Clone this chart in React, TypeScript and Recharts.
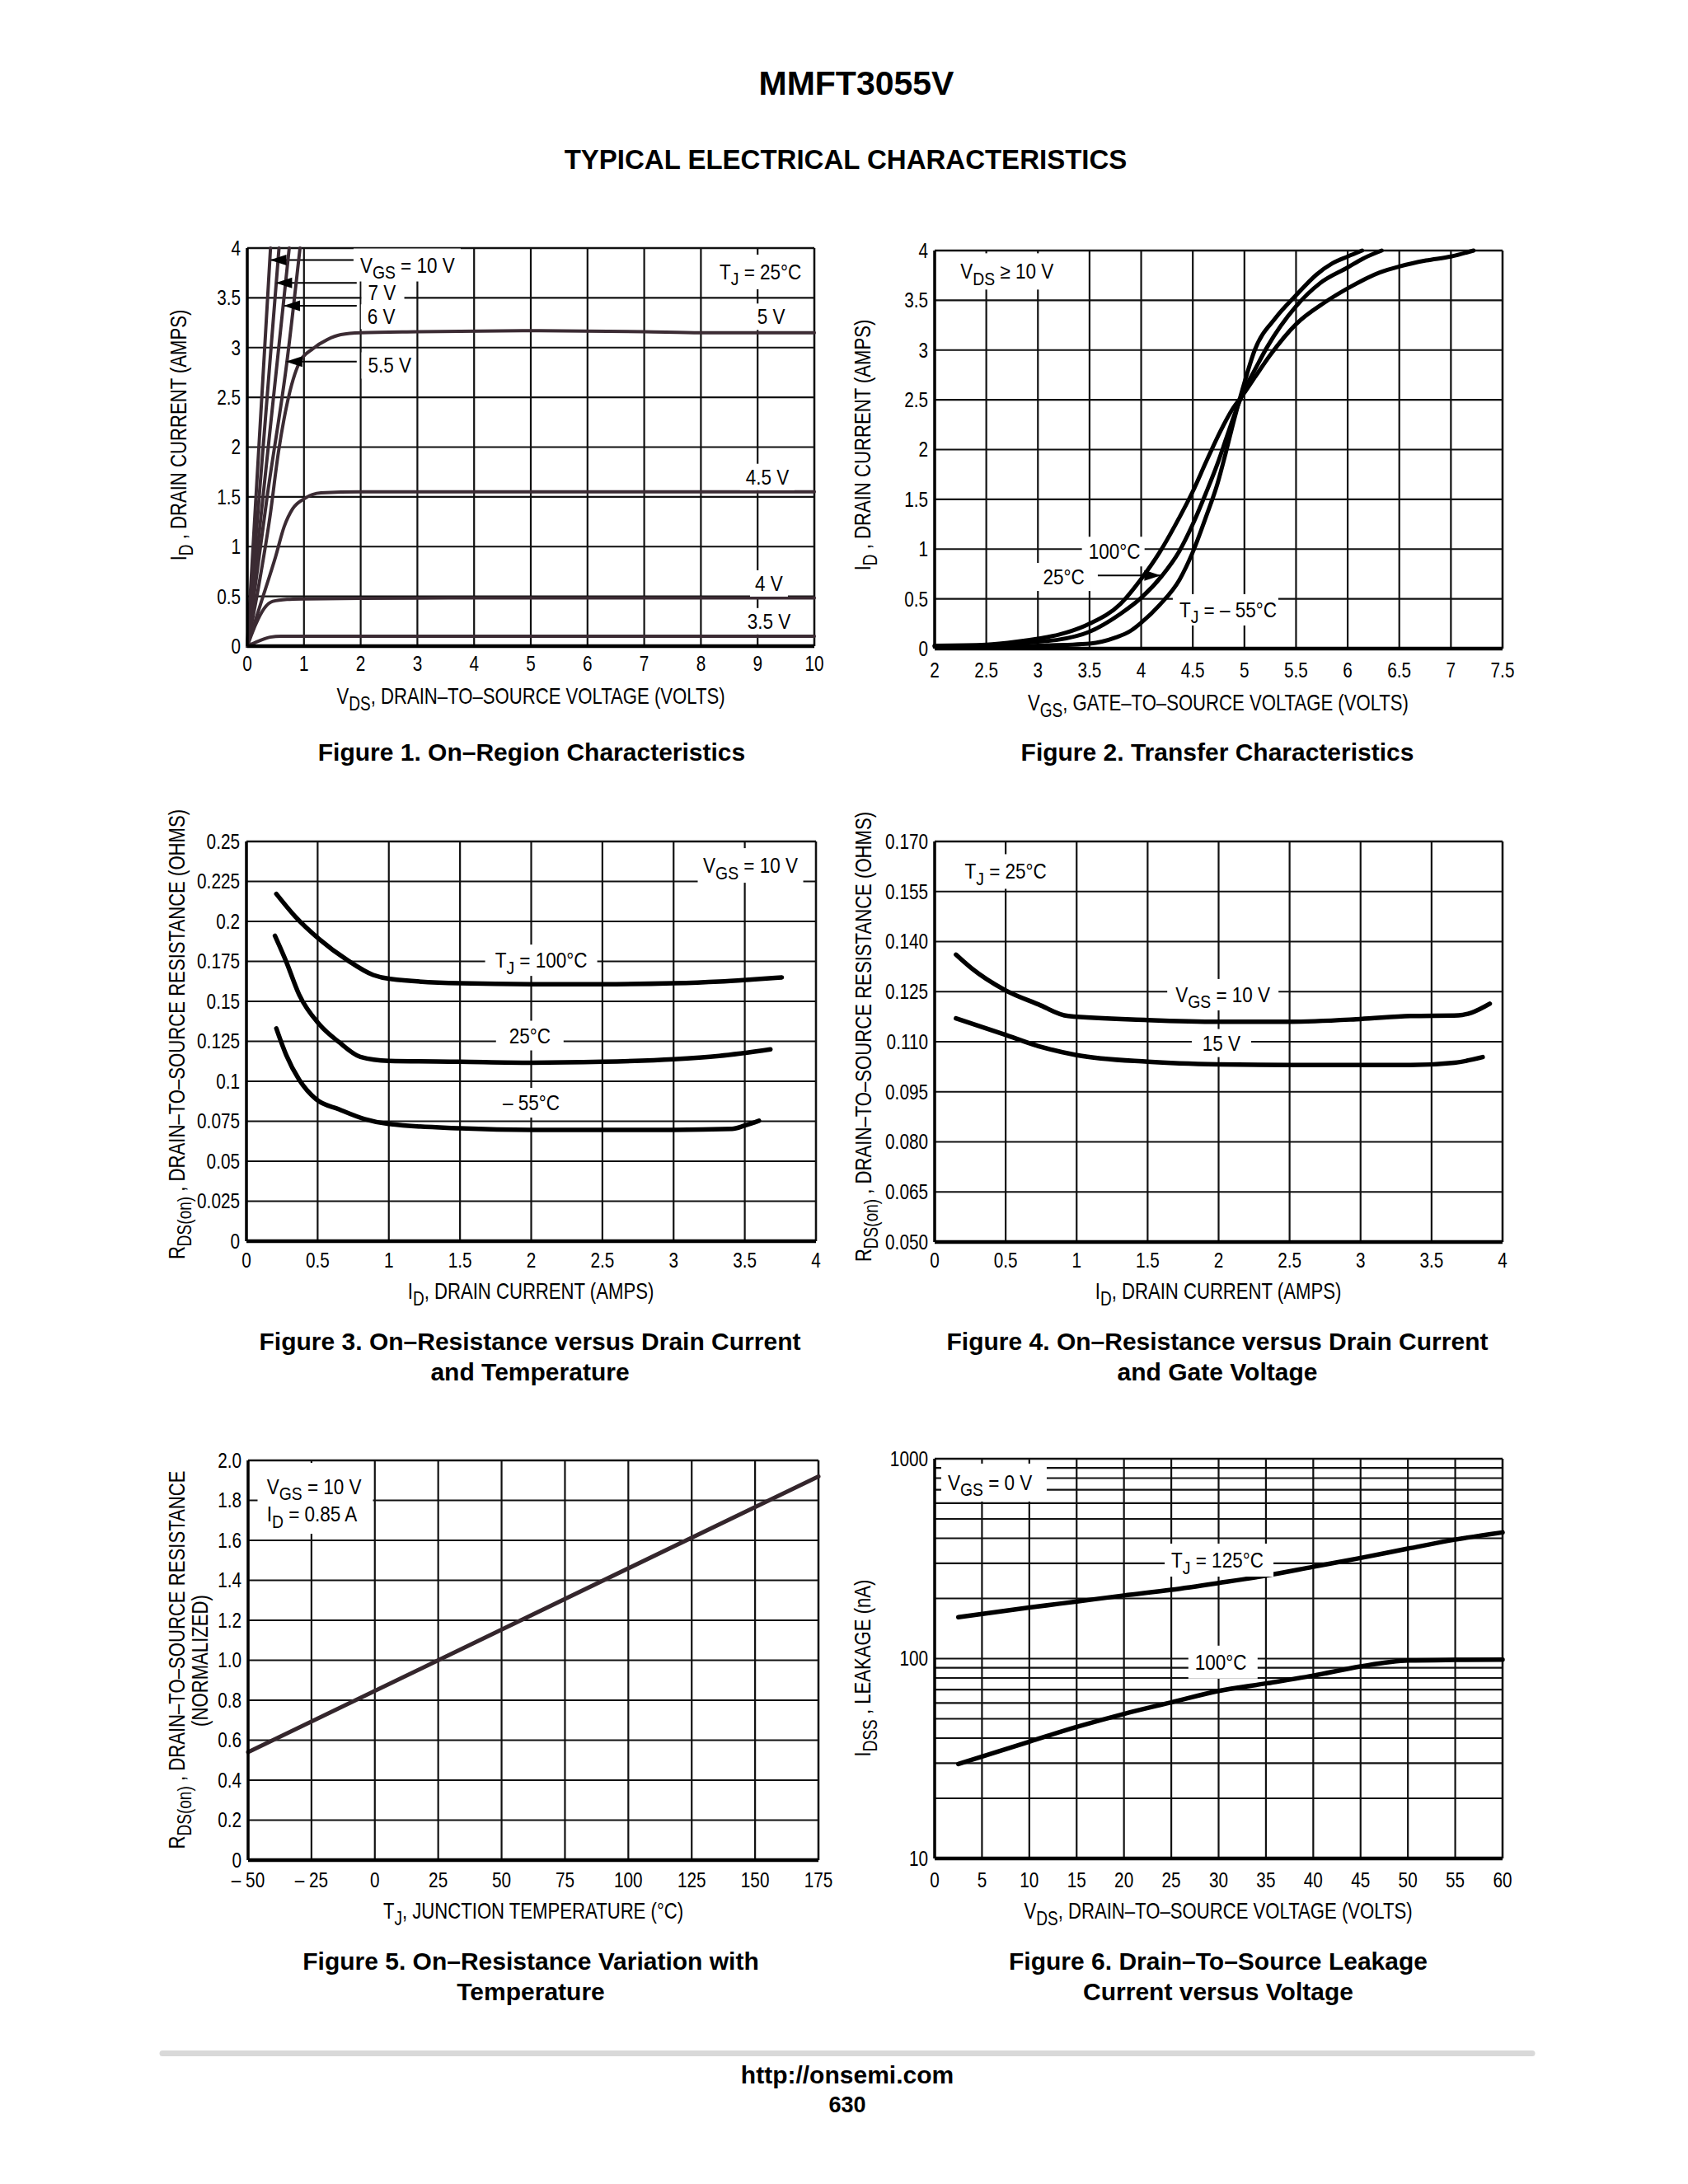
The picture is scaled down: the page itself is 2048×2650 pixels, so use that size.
import React from 'react';
import { LineChart, Line, XAxis, YAxis, CartesianGrid, ReferenceLine, ReferenceDot } from 'recharts';

const SANS = "'Liberation Sans', Arial, Helvetica, sans-serif";

type P = { x: number; y: number };
type Run = [string, number?];

// ---------------- Figure 1 : On-Region Characteristics ----------------
const fig1VdsTicks = [0, 1, 2, 3, 4, 5, 6, 7, 8, 9, 10];
const fig1VdsLabels = ['0', '1', '2', '3', '4', '5', '6', '7', '8', '9', '10'];
const fig1IdTicks = [0, 0.5, 1, 1.5, 2, 2.5, 3, 3.5, 4];
const fig1IdLabels = ['0', '0.5', '1', '1.5', '2', '2.5', '3', '3.5', '4'];
const fig1Vgs10: P[] = [{ x: 0, y: 0 }, { x: 0.41, y: 4 }];
const fig1Vgs7: P[] = [{ x: 0, y: 0 }, { x: 0.56, y: 4 }];
const fig1Vgs6: P[] = [{ x: 0, y: 0 }, { x: 0.74, y: 4 }];
const fig1Vgs55: P[] = [{ x: 0, y: 0 }, { x: 0.35, y: 1.5 }, { x: 0.7, y: 2.86 }, { x: 0.93, y: 4 }];
const fig1Vgs5: P[] = [
  { x: 0, y: 0 }, { x: 0.2, y: 0.6 }, { x: 0.4, y: 1.3 }, { x: 0.55, y: 1.95 }, { x: 0.7, y: 2.43 },
  { x: 0.92, y: 2.85 }, { x: 1.16, y: 2.99 }, { x: 1.41, y: 3.08 }, { x: 1.65, y: 3.13 }, { x: 2, y: 3.15 },
  { x: 3, y: 3.16 }, { x: 5, y: 3.17 }, { x: 7, y: 3.16 }, { x: 8, y: 3.15 }, { x: 10, y: 3.15 },
];
const fig1Vgs45: P[] = [
  { x: 0, y: 0 }, { x: 0.25, y: 0.45 }, { x: 0.5, y: 0.9 }, { x: 0.65, y: 1.2 }, { x: 0.8, y: 1.38 },
  { x: 1, y: 1.48 }, { x: 1.3, y: 1.54 }, { x: 2, y: 1.55 }, { x: 10, y: 1.55 },
];
const fig1Vgs4: P[] = [
  { x: 0, y: 0 }, { x: 0.15, y: 0.22 }, { x: 0.3, y: 0.38 }, { x: 0.45, y: 0.45 }, { x: 0.7, y: 0.47 },
  { x: 1, y: 0.475 }, { x: 2, y: 0.48 }, { x: 4, y: 0.485 }, { x: 10, y: 0.485 },
];
const fig1Vgs35: P[] = [{ x: 0, y: 0 }, { x: 0.2, y: 0.05 }, { x: 0.4, y: 0.09 }, { x: 0.6, y: 0.1 }, { x: 10, y: 0.1 }];

// ---------------- Figure 2 : Transfer Characteristics ----------------
const fig2VgsTicks = [2, 2.5, 3, 3.5, 4, 4.5, 5, 5.5, 6, 6.5, 7, 7.5];
const fig2VgsLabels = ['2', '2.5', '3', '3.5', '4', '4.5', '5', '5.5', '6', '6.5', '7', '7.5'];
const fig2IdTicks = [0, 0.5, 1, 1.5, 2, 2.5, 3, 3.5, 4];
const fig2IdLabels = ['0', '0.5', '1', '1.5', '2', '2.5', '3', '3.5', '4'];
const fig2Tj100: P[] = [
  { x: 2, y: 0.03 }, { x: 2.5, y: 0.04 }, { x: 2.8, y: 0.07 }, { x: 3, y: 0.1 }, { x: 3.2, y: 0.14 },
  { x: 3.5, y: 0.25 }, { x: 3.8, y: 0.45 }, { x: 4, y: 0.7 }, { x: 4.18, y: 0.97 }, { x: 4.34, y: 1.26 },
  { x: 4.5, y: 1.58 }, { x: 4.63, y: 1.88 }, { x: 4.77, y: 2.19 }, { x: 4.88, y: 2.4 }, { x: 5, y: 2.57 },
  { x: 5.11, y: 2.74 }, { x: 5.25, y: 2.95 }, { x: 5.5, y: 3.26 }, { x: 5.78, y: 3.48 }, { x: 6, y: 3.62 },
  { x: 6.31, y: 3.78 }, { x: 6.5, y: 3.84 }, { x: 6.76, y: 3.9 }, { x: 7, y: 3.94 }, { x: 7.22, y: 4 },
];
const fig2Tj25: P[] = [
  { x: 2, y: 0.03 }, { x: 2.5, y: 0.03 }, { x: 2.8, y: 0.05 }, { x: 3, y: 0.07 }, { x: 3.2, y: 0.09 },
  { x: 3.5, y: 0.17 }, { x: 3.8, y: 0.35 }, { x: 4, y: 0.51 }, { x: 4.2, y: 0.73 }, { x: 4.37, y: 0.98 },
  { x: 4.5, y: 1.25 }, { x: 4.63, y: 1.57 }, { x: 4.74, y: 1.86 }, { x: 4.82, y: 2.1 }, { x: 4.9, y: 2.34 },
  { x: 5, y: 2.6 }, { x: 5.1, y: 2.8 }, { x: 5.22, y: 3.03 }, { x: 5.5, y: 3.44 }, { x: 5.73, y: 3.67 },
  { x: 6, y: 3.83 }, { x: 6.15, y: 3.92 }, { x: 6.33, y: 4 },
];
const fig2TjM55: P[] = [
  { x: 2, y: 0.02 }, { x: 2.5, y: 0.02 }, { x: 3, y: 0.03 }, { x: 3.5, y: 0.05 }, { x: 3.75, y: 0.11 },
  { x: 3.9, y: 0.18 }, { x: 4, y: 0.26 }, { x: 4.18, y: 0.44 }, { x: 4.37, y: 0.69 }, { x: 4.5, y: 0.97 },
  { x: 4.63, y: 1.33 }, { x: 4.74, y: 1.66 }, { x: 4.82, y: 1.97 }, { x: 4.9, y: 2.3 }, { x: 4.98, y: 2.6 },
  { x: 5.1, y: 3 }, { x: 5.3, y: 3.32 }, { x: 5.5, y: 3.55 }, { x: 5.7, y: 3.76 }, { x: 5.85, y: 3.87 },
  { x: 6, y: 3.94 }, { x: 6.14, y: 4 },
];

// ---------------- Figure 3 : On-Resistance vs Drain Current and Temperature ----------------
const fig3IdTicks = [0, 0.5, 1, 1.5, 2, 2.5, 3, 3.5, 4];
const fig3IdLabels = ['0', '0.5', '1', '1.5', '2', '2.5', '3', '3.5', '4'];
const fig3RTicks = [0, 0.025, 0.05, 0.075, 0.1, 0.125, 0.15, 0.175, 0.2, 0.225, 0.25];
const fig3RLabels = ['0', '0.025', '0.05', '0.075', '0.1', '0.125', '0.15', '0.175', '0.2', '0.225', '0.25'];
const fig3Tj100: P[] = [
  { x: 0.21, y: 0.2172 }, { x: 0.34, y: 0.2033 }, { x: 0.51, y: 0.189 }, { x: 0.71, y: 0.1757 },
  { x: 0.89, y: 0.1665 }, { x: 1.01, y: 0.164 }, { x: 1.5, y: 0.1613 }, { x: 2, y: 0.1607 },
  { x: 2.5, y: 0.1607 }, { x: 3, y: 0.1613 }, { x: 3.32, y: 0.1624 }, { x: 3.55, y: 0.1637 }, { x: 3.76, y: 0.165 },
];
const fig3Tj25: P[] = [
  { x: 0.2, y: 0.191 }, { x: 0.28, y: 0.1747 }, { x: 0.37, y: 0.1542 }, { x: 0.51, y: 0.1358 },
  { x: 0.65, y: 0.1245 }, { x: 0.8, y: 0.1153 }, { x: 1, y: 0.1128 }, { x: 1.5, y: 0.1122 },
  { x: 2, y: 0.1116 }, { x: 2.5, y: 0.1122 }, { x: 3, y: 0.1138 }, { x: 3.32, y: 0.1159 }, { x: 3.68, y: 0.12 },
];
const fig3TjM55: P[] = [
  { x: 0.21, y: 0.1331 }, { x: 0.28, y: 0.1163 }, { x: 0.37, y: 0.101 }, { x: 0.49, y: 0.0887 },
  { x: 0.65, y: 0.0825 }, { x: 0.83, y: 0.0764 }, { x: 1, y: 0.0733 }, { x: 1.5, y: 0.0706 },
  { x: 2, y: 0.0696 }, { x: 3, y: 0.0696 }, { x: 3.41, y: 0.0702 }, { x: 3.5, y: 0.0723 }, { x: 3.6, y: 0.0753 },
];

// ---------------- Figure 4 : On-Resistance vs Drain Current and Gate Voltage ----------------
const fig4IdTicks = [0, 0.5, 1, 1.5, 2, 2.5, 3, 3.5, 4];
const fig4IdLabels = ['0', '0.5', '1', '1.5', '2', '2.5', '3', '3.5', '4'];
const fig4RTicks = [0.05, 0.065, 0.08, 0.095, 0.11, 0.125, 0.14, 0.155, 0.17];
const fig4RLabels = ['0.050', '0.065', '0.080', '0.095', '0.110', '0.125', '0.140', '0.155', '0.170'];
const fig4Vgs10: P[] = [
  { x: 0.15, y: 0.1361 }, { x: 0.26, y: 0.132 }, { x: 0.49, y: 0.1256 }, { x: 0.73, y: 0.1212 },
  { x: 0.94, y: 0.1177 }, { x: 1.5, y: 0.1165 }, { x: 2, y: 0.116 }, { x: 2.5, y: 0.116 },
  { x: 3, y: 0.1168 }, { x: 3.35, y: 0.1177 }, { x: 3.69, y: 0.1179 }, { x: 3.78, y: 0.1187 }, { x: 3.91, y: 0.1214 },
];
const fig4Vgs15: P[] = [
  { x: 0.15, y: 0.117 }, { x: 0.49, y: 0.1122 }, { x: 0.73, y: 0.1087 }, { x: 1, y: 0.106 },
  { x: 1.5, y: 0.104 }, { x: 2, y: 0.1032 }, { x: 2.5, y: 0.103 }, { x: 3, y: 0.103 },
  { x: 3.35, y: 0.103 }, { x: 3.66, y: 0.1037 }, { x: 3.86, y: 0.1054 },
];

// ---------------- Figure 5 : On-Resistance Variation with Temperature ----------------
const fig5TjTicks = [-50, -25, 0, 25, 50, 75, 100, 125, 150, 175];
const fig5TjLabels = ['– 50', '– 25', '0', '25', '50', '75', '100', '125', '150', '175'];
const fig5RTicks = [0, 0.2, 0.4, 0.6, 0.8, 1, 1.2, 1.4, 1.6, 1.8, 2];
const fig5RLabels = ['0', '0.2', '0.4', '0.6', '0.8', '1.0', '1.2', '1.4', '1.6', '1.8', '2.0'];
const fig5Rdson: P[] = [{ x: -50, y: 0.54 }, { x: 25, y: 1.0 }, { x: 175, y: 1.92 }];

// ---------------- Figure 6 : Drain-To-Source Leakage Current vs Voltage ----------------
const fig6VdsTicks = [0, 5, 10, 15, 20, 25, 30, 35, 40, 45, 50, 55, 60];
const fig6VdsLabels = ['0', '5', '10', '15', '20', '25', '30', '35', '40', '45', '50', '55', '60'];
const fig6IdssTicks = [10, 20, 30, 40, 50, 60, 70, 80, 90, 100, 200, 300, 400, 500, 600, 700, 800, 900, 1000];
const fig6IdssLabels = ['10', '', '', '', '', '', '', '', '', '100', '', '', '', '', '', '', '', '', '1000'];
const fig6Tj125: P[] = [
  { x: 2.5, y: 161 }, { x: 10, y: 180 }, { x: 15, y: 193 }, { x: 20, y: 207 }, { x: 25, y: 221 },
  { x: 30, y: 239 }, { x: 35, y: 260 }, { x: 40, y: 288 }, { x: 45, y: 319 }, { x: 50, y: 355 },
  { x: 55, y: 394 }, { x: 60, y: 428 },
];
const fig6Tj100: P[] = [
  { x: 2.5, y: 29.7 }, { x: 10, y: 38.4 }, { x: 15, y: 45.5 }, { x: 20, y: 52.9 }, { x: 25, y: 60.4 },
  { x: 30, y: 68.9 }, { x: 35, y: 75.1 }, { x: 40, y: 82.2 }, { x: 45, y: 91.4 }, { x: 50, y: 97.8 },
  { x: 55, y: 98.5 }, { x: 60, y: 98.8 },
];

// ---------------- helpers ----------------
const FS = 25; // tick / note font size
const TICK_SX = 0.83;
const NOTE_SX = 0.9;
const AX = 27; // axis title font size
const AX_SX = 0.82;

function runs(rs: Run[], fs: number) {
  let sub = false;
  return rs.map(([t, s], i) => {
    const isSub = !!s;
    let dy = 0;
    if (isSub && !sub) dy = fs * 0.3;
    if (!isSub && sub) dy = -fs * 0.3;
    sub = isSub;
    return (
      <tspan key={i} dy={dy} fontSize={isSub ? fs * 0.86 : fs}>
        {t}
      </tspan>
    );
  });
}

function NText(props: { x: number; y: number; r: Run[]; fs: number; sx: number; anchor?: string; rotate?: boolean }) {
  const { x, y, r, fs, sx, anchor = 'middle', rotate = false } = props;
  const tr = `translate(${x},${y})${rotate ? ' rotate(-90)' : ''} scale(${sx},1)`;
  return (
    <text transform={tr} x={0} y={0} textAnchor={anchor as any} fontFamily={SANS} fontSize={fs} fill="#000">
      {runs(r, fs)}
    </text>
  );
}

interface Note { x: number; y: number; r: Run[]; a?: 'start' | 'middle'; w: number; h: number }
interface Leader { x1: number; x2: number; y: number; dir: 'left' | 'right' }
interface Series { data: P[]; curve: 'linear' | 'monotone' }
interface PanelCfg {
  left: number; top: number; w: number; h: number;
  xDomain: [number, number]; xTicks: number[]; xLabels: string[];
  yDomain: [number, number]; yTicks: number[]; yLabels: string[]; yLog?: boolean;
  series: Series[]; color: string; lineW: number;
  notes: Note[]; leaders: Leader[]; xGap: number;
}

const YW = 150;
const XH = 60;
const MT = 14;
const MR = 24;

function noteShape(n: Note) {
  return (props: any) => {
    const cx = props.cx;
    const cy = props.cy;
    const a = n.a || 'middle';
    const rx = a === 'middle' ? cx - n.w / 2 : cx - 8;
    return (
      <g>
        {n.w > 0 && <rect x={rx} y={cy - n.h / 2} width={n.w} height={n.h} fill="#fff" />}
        {n.r.length > 0 && <NText x={cx} y={cy + FS * 0.36} r={n.r} fs={FS} sx={NOTE_SX} anchor={a} />}
      </g>
    );
  };
}

function arrowShape(dir: 'left' | 'right') {
  return (props: any) => {
    const cx = props.cx;
    const cy = props.cy;
    const s = dir === 'left' ? 1 : -1;
    return <polygon points={`${cx},${cy} ${cx + s * 20},${cy - 6.5} ${cx + s * 20},${cy + 6.5}`} fill="#000" />;
  };
}

function Panel({ c }: { c: PanelCfg }) {
  const xTick = (p: any) => {
    const lab = c.xLabels[c.xTicks.indexOf(p.payload.value)] ?? '';
    return <NText x={p.x} y={p.y + FS * 0.716} r={[[lab]]} fs={FS} sx={TICK_SX} anchor="middle" />;
  };
  const yTick = (p: any) => {
    const lab = c.yLabels[c.yTicks.indexOf(p.payload.value)] ?? '';
    if (!lab) return <g />;
    return <NText x={p.x} y={p.y + FS * 0.358} r={[[lab]]} fs={FS} sx={TICK_SX} anchor="end" />;
  };
  return (
    <div style={{ position: 'absolute', left: c.left - YW, top: c.top - MT }}>
      <LineChart width={c.w + YW + MR} height={c.h + MT + XH} margin={{ top: MT, right: MR, bottom: 0, left: 0 }}>
        <CartesianGrid stroke="#111" strokeWidth={2.2} />
        <XAxis
          type="number"
          dataKey="x"
          domain={c.xDomain}
          ticks={c.xTicks}
          interval={0}
          height={XH}
          tickLine={false}
          tickSize={0}
          tickMargin={c.xGap}
          axisLine={{ stroke: '#000', strokeWidth: 4.5 }}
          tick={xTick}
        />
        <YAxis
          type="number"
          dataKey="y"
          domain={c.yDomain}
          ticks={c.yTicks}
          interval={0}
          width={YW}
          scale={c.yLog ? 'log' : 'auto'}
          tickLine={false}
          tickSize={0}
          tickMargin={8}
          axisLine={{ stroke: '#000', strokeWidth: 3.5 }}
          tick={yTick}
        />
        <ReferenceLine x={c.xDomain[1]} stroke="#111" strokeWidth={2.4} />
        <ReferenceLine y={c.yDomain[1]} stroke="#111" strokeWidth={2.4} />
        {c.notes.map((n, i) => (
          <ReferenceDot key={'n' + i} x={n.x} y={n.y} r={0} ifOverflow="visible" shape={noteShape(n)} />
        ))}
        {c.leaders.map((l, i) => (
          <ReferenceLine
            key={'l' + i}
            segment={[{ x: l.x1, y: l.y }, { x: l.x2, y: l.y }]}
            stroke="#000"
            strokeWidth={2}
            ifOverflow="visible"
          />
        ))}
        {c.leaders.map((l, i) => (
          <ReferenceDot
            key={'a' + i}
            x={l.dir === 'left' ? l.x1 : l.x2}
            y={l.y}
            r={0}
            ifOverflow="visible"
            shape={arrowShape(l.dir)}
          />
        ))}
        {c.series.map((s, i) => (
          <Line
            key={'s' + i}
            data={s.data}
            dataKey="y"
            type={s.curve}
            stroke={c.color}
            strokeWidth={c.lineW}
            dot={false}
            activeDot={false}
            isAnimationActive={false}
            strokeLinecap="round"
          />
        ))}
      </LineChart>
    </div>
  );
}

const VGS: Run[] = [['V'], ['GS', 1]];
const TJ: Run[] = [['T'], ['J', 1]];

const panel1: PanelCfg = {
  left: 300, top: 301, w: 688, h: 483,
  xDomain: [0, 10], xTicks: fig1VdsTicks, xLabels: fig1VdsLabels,
  yDomain: [0, 4], yTicks: fig1IdTicks, yLabels: fig1IdLabels,
  series: [
    { data: fig1Vgs10, curve: 'linear' }, { data: fig1Vgs7, curve: 'linear' }, { data: fig1Vgs6, curve: 'linear' },
    { data: fig1Vgs55, curve: 'monotone' }, { data: fig1Vgs5, curve: 'monotone' }, { data: fig1Vgs45, curve: 'monotone' },
    { data: fig1Vgs4, curve: 'monotone' }, { data: fig1Vgs35, curve: 'monotone' },
  ],
  color: '#3b2b33', lineW: 4,
  notes: [
    { x: 1.99, y: 3.83, r: [...VGS, [' = 10 V']], a: 'start', w: 130, h: 40 },
    { x: 2.13, y: 3.55, r: [['7 V']], a: 'start', w: 52, h: 30 },
    { x: 2.12, y: 3.31, r: [['6 V']], a: 'start', w: 50, h: 30 },
    { x: 2.13, y: 2.82, r: [['5.5 V']], a: 'start', w: 66, h: 32 },
    { x: 9.05, y: 3.76, r: [...TJ, [' = 25°C']], w: 118, h: 42 },
    { x: 9.24, y: 3.31, r: [['5 V']], w: 46, h: 32 },
    { x: 9.17, y: 1.7, r: [['4.5 V']], w: 66, h: 32 },
    { x: 9.2, y: 0.63, r: [['4 V']], w: 46, h: 32 },
    { x: 9.2, y: 0.25, r: [['3.5 V']], w: 66, h: 32 },
  ],
  leaders: [
    { x1: 0.4, x2: 1.93, y: 3.88, dir: 'left' },
    { x1: 0.5, x2: 1.93, y: 3.65, dir: 'left' },
    { x1: 0.64, x2: 1.93, y: 3.42, dir: 'left' },
    { x1: 0.68, x2: 1.93, y: 2.86, dir: 'left' },
  ],
  xGap: 12,
};

const panel2: PanelCfg = {
  left: 1134, top: 304, w: 689, h: 483,
  xDomain: [2, 7.5], xTicks: fig2VgsTicks, xLabels: fig2VgsLabels,
  yDomain: [0, 4], yTicks: fig2IdTicks, yLabels: fig2IdLabels,
  series: [
    { data: fig2Tj100, curve: 'monotone' }, { data: fig2Tj25, curve: 'monotone' }, { data: fig2TjM55, curve: 'monotone' },
  ],
  color: '#000', lineW: 5,
  notes: [
    { x: 2.25, y: 3.79, r: [['V'], ['DS', 1], [' ≥ 10 V']], a: 'start', w: 128, h: 44 },
    { x: 3.49, y: 0.975, r: [['100°C']], a: 'start', w: 76, h: 36 },
    { x: 3.05, y: 0.72, r: [['25°C']], a: 'start', w: 66, h: 34 },
    { x: 4.37, y: 0.39, r: [...TJ, [' = – 55°C']], a: 'start', w: 128, h: 38 },
  ],
  leaders: [{ x1: 3.58, x2: 4.19, y: 0.734, dir: 'right' }],
  xGap: 17,
};

const panel3: PanelCfg = {
  left: 299, top: 1021, w: 691, h: 485,
  xDomain: [0, 4], xTicks: fig3IdTicks, xLabels: fig3IdLabels,
  yDomain: [0, 0.25], yTicks: fig3RTicks, yLabels: fig3RLabels,
  series: [
    { data: fig3Tj100, curve: 'monotone' }, { data: fig3Tj25, curve: 'monotone' }, { data: fig3TjM55, curve: 'monotone' },
  ],
  color: '#000', lineW: 5.5,
  notes: [
    { x: 3.54, y: 0.235, r: [...VGS, [' = 10 V']], w: 128, h: 42 },
    { x: 2.07, y: 0.1757, r: [...TJ, [' = 100°C']], w: 136, h: 38 },
    { x: 1.99, y: 0.1286, r: [['25°C']], w: 82, h: 36 },
    { x: 2.0, y: 0.0866, r: [['– 55°C']], w: 86, h: 36 },
  ],
  leaders: [],
  xGap: 14,
};

const panel4: PanelCfg = {
  left: 1134, top: 1021, w: 689, h: 486,
  xDomain: [0, 4], xTicks: fig4IdTicks, xLabels: fig4IdLabels,
  yDomain: [0.05, 0.17], yTicks: fig4RTicks, yLabels: fig4RLabels,
  series: [{ data: fig4Vgs10, curve: 'monotone' }, { data: fig4Vgs15, curve: 'monotone' }],
  color: '#000', lineW: 5.5,
  notes: [
    { x: 0.5, y: 0.161, r: [...TJ, [' = 25°C']], w: 118, h: 42 },
    { x: 2.03, y: 0.1241, r: [...VGS, [' = 10 V']], w: 135, h: 38 },
    { x: 2.02, y: 0.1096, r: [['15 V']], w: 72, h: 34 },
  ],
  leaders: [],
  xGap: 13,
};

const panel5: PanelCfg = {
  left: 301, top: 1772, w: 692, h: 485,
  xDomain: [-50, 175], xTicks: fig5TjTicks, xLabels: fig5TjLabels,
  yDomain: [0, 2], yTicks: fig5RTicks, yLabels: fig5RLabels,
  series: [{ data: fig5Rdson, curve: 'linear' }],
  color: '#34262c', lineW: 5,
  notes: [
    { x: -23.5, y: 1.81, r: [], w: 140, h: 86 },
    { x: -42.6, y: 1.87, r: [...VGS, [' = 10 V']], a: 'start', w: 0, h: 0 },
    { x: -42.6, y: 1.73, r: [['I'], ['D', 1], [' = 0.85 A']], a: 'start', w: 0, h: 0 },
  ],
  leaders: [],
  xGap: 15,
};

const panel6: PanelCfg = {
  left: 1134, top: 1770, w: 689, h: 485,
  xDomain: [0, 60], xTicks: fig6VdsTicks, xLabels: fig6VdsLabels,
  yDomain: [10, 1000], yTicks: fig6IdssTicks, yLabels: fig6IdssLabels, yLog: true,
  series: [{ data: fig6Tj125, curve: 'monotone' }, { data: fig6Tj100, curve: 'monotone' }],
  color: '#000', lineW: 5.5,
  notes: [
    { x: 1.39, y: 760, r: [...VGS, [' = 0 V']], a: 'start', w: 128, h: 46 },
    { x: 25, y: 311, r: [...TJ, [' = 125°C']], a: 'start', w: 132, h: 40 },
    { x: 27.5, y: 96, r: [['100°C']], a: 'start', w: 84, h: 40 },
  ],
  leaders: [],
  xGap: 17,
};

// axis titles (text) and their page positions
const xTitles: { r: Run[]; x: number; y: number }[] = [
  { r: [['V'], ['DS', 1], [', DRAIN–TO–SOURCE VOLTAGE (VOLTS)']], x: 644, y: 854 },
  { r: [['V'], ['GS', 1], [', GATE–TO–SOURCE VOLTAGE (VOLTS)']], x: 1478, y: 862 },
  { r: [['I'], ['D', 1], [', DRAIN CURRENT (AMPS)']], x: 644, y: 1576 },
  { r: [['I'], ['D', 1], [', DRAIN CURRENT (AMPS)']], x: 1478, y: 1576 },
  { r: [['T'], ['J', 1], [', JUNCTION TEMPERATURE (°C)']], x: 647, y: 2328 },
  { r: [['V'], ['DS', 1], [', DRAIN–TO–SOURCE VOLTAGE (VOLTS)']], x: 1478, y: 2328 },
];
const yTitles: { r: Run[]; x: number; y: number }[] = [
  { r: [['I'], ['D', 1], [' , DRAIN CURRENT (AMPS)']], x: 226, y: 528 },
  { r: [['I'], ['D', 1], [' , DRAIN CURRENT (AMPS)']], x: 1056, y: 540 },
  { r: [['R'], ['DS(on)', 1], [' , DRAIN–TO–SOURCE RESISTANCE (OHMS)']], x: 224, y: 1255 },
  { r: [['R'], ['DS(on)', 1], [' , DRAIN–TO–SOURCE RESISTANCE (OHMS)']], x: 1057, y: 1258 },
  { r: [['R'], ['DS(on)', 1], [' , DRAIN–TO–SOURCE RESISTANCE']], x: 224, y: 2014 },
  { r: [['(NORMALIZED)']], x: 252, y: 2015 },
  { r: [['I'], ['DSS', 1], [' , LEAKAGE (nA)']], x: 1056, y: 2024 },
];
const captions: { t: string; x: number; y: number }[] = [
  { t: 'Figure 1. On–Region Characteristics', x: 645, y: 923 },
  { t: 'Figure 2. Transfer Characteristics', x: 1477, y: 923 },
  { t: 'Figure 3. On–Resistance versus Drain Current', x: 643, y: 1638 },
  { t: 'and Temperature', x: 643, y: 1675 },
  { t: 'Figure 4. On–Resistance versus Drain Current', x: 1477, y: 1638 },
  { t: 'and Gate Voltage', x: 1477, y: 1675 },
  { t: 'Figure 5. On–Resistance Variation with', x: 644, y: 2390 },
  { t: 'Temperature', x: 644, y: 2427 },
  { t: 'Figure 6. Drain–To–Source Leakage', x: 1478, y: 2390 },
  { t: 'Current versus Voltage', x: 1478, y: 2427 },
];

export default function App() {
  return (
    <div style={{ position: 'absolute', left: 0, top: 0, width: 2048, height: 2650, background: '#fff', overflow: 'hidden' }}>
      <svg width={2048} height={2650} style={{ position: 'absolute', left: 0, top: 0 }}>
        <text x={1039} y={115} textAnchor="middle" fontFamily={SANS} fontWeight="bold" fontSize={41} fill="#000">
          MMFT3055V
        </text>
        <text x={1026} y={205} textAnchor="middle" fontFamily={SANS} fontWeight="bold" fontSize={33} fill="#000">
          TYPICAL ELECTRICAL CHARACTERISTICS
        </text>
        {captions.map((c, i) => (
          <text key={'c' + i} x={c.x} y={c.y} textAnchor="middle" fontFamily={SANS} fontWeight="bold" fontSize={30} fill="#000">
            {c.t}
          </text>
        ))}
        {xTitles.map((t, i) => (
          <NText key={'x' + i} x={t.x} y={t.y} r={t.r} fs={AX} sx={AX_SX} anchor="middle" />
        ))}
        {yTitles.map((t, i) => (
          <NText key={'y' + i} x={t.x} y={t.y} r={t.r} fs={AX} sx={AX_SX} anchor="middle" rotate />
        ))}
        <line x1={197} y1={2491.5} x2={1859} y2={2491.5} stroke="#d9d9d9" strokeWidth={7} strokeLinecap="round" />
        <text x={1028} y={2528} textAnchor="middle" fontFamily={SANS} fontWeight="bold" fontSize={30} fill="#000">
          http://onsemi.com
        </text>
        <text x={1028} y={2563} textAnchor="middle" fontFamily={SANS} fontWeight="bold" fontSize={27} fill="#000">
          630
        </text>
      </svg>
      <Panel c={panel1} />
      <Panel c={panel2} />
      <Panel c={panel3} />
      <Panel c={panel4} />
      <Panel c={panel5} />
      <Panel c={panel6} />
    </div>
  );
}
